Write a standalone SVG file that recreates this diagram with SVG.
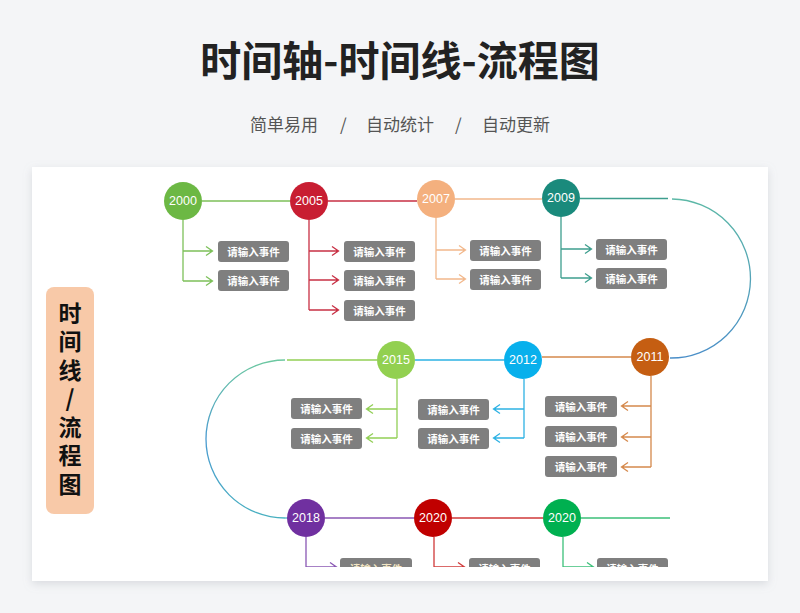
<svg xmlns="http://www.w3.org/2000/svg" width="800" height="613" viewBox="0 0 800 613">
<style>
.cjk{font-family:"Noto Sans CJK SC","Noto Sans",sans-serif}
.yr{font-family:"Liberation Sans",Arial,sans-serif;font-size:12.5px;fill:#fff;text-anchor:middle;dominant-baseline:central}
.bx{fill:#7f7f7f}
.bt{font-family:"Noto Sans CJK SC",sans-serif;font-size:10.5px;font-weight:700;fill:#fff;text-anchor:middle;dominant-baseline:central}
.ln{fill:none;stroke-width:1.3}
.lb{font-family:"Noto Sans CJK SC",sans-serif;font-size:23px;font-weight:700;fill:#111;writing-mode:vertical-rl;text-orientation:upright;letter-spacing:5.5px}
</style>
<defs>
<filter id="sh" x="-5%" y="-5%" width="110%" height="115%">
<feDropShadow dx="0" dy="3" stdDeviation="4" flood-color="#9aa0aa" flood-opacity="0.3"/>
</filter>
<linearGradient id="gr" x1="0" y1="0" x2="0" y2="1">
<stop offset="0" stop-color="#5cb8a6"/>
<stop offset="1" stop-color="#4a8ec8"/>
</linearGradient>
<linearGradient id="gl" x1="0" y1="0" x2="0" y2="1">
<stop offset="0" stop-color="#6cc8a0"/>
<stop offset="0.5" stop-color="#4a9ad0"/>
<stop offset="1" stop-color="#48b0c0"/>
</linearGradient>
<clipPath id="cp"><rect x="32" y="167" width="736" height="400"/></clipPath>
</defs>
<rect width="800" height="613" fill="#f4f5f7"/>
<text x="400" y="76" class="cjk" font-size="41" font-weight="700" fill="#222" text-anchor="middle">时间轴-时间线-流程图</text>
<g class="cjk" font-size="17" fill="#555">
<text x="250" y="131">简单易用</text>
<text x="340" y="131">/</text>
<text x="366" y="131">自动统计</text>
<text x="455" y="131">/</text>
<text x="482" y="131">自动更新</text>
</g>
<rect x="32" y="167" width="736" height="414" fill="#fff" filter="url(#sh)"/>
<g id="label">
<rect x="46" y="287" width="48" height="227" rx="8" fill="#f8c9a8"/>
<text class="lb" x="70" y="301.5">时间线/流程图</text>
</g>
<g id="connectors" clip-path="url(#cp)">
<path class="ln" stroke="#7dc05a" d="M202,201H290M183,220V281M183,251H212M183,281H212M206,246.5L212.5,251L206,255.5M206,276.5L212.5,281L206,285.5"/>
<path class="ln" stroke="#c83044" d="M328,201H417M309,220V310M309,251H338M309,280H338M309,310H338M332,246.5L338.5,251L332,255.5M332,275.5L338.5,280L332,284.5M332,305.5L338.5,310L332,314.5"/>
<path class="ln" stroke="#f2b88c" d="M455,199H542M436,218V279M436,250H465M436,279H465M459,245.5L465.5,250L459,254.5M459,274.5L465.5,279L459,283.5"/>
<path class="ln" stroke="#3e9e8e" d="M580,198.5H668M561,217V278M561,249H591M561,278H591M585,244.5L591.5,249L585,253.5M585,273.5L591.5,278L585,282.5"/>
<path class="ln" stroke="url(#gr)" d="M672,199A79.5,79.5 0 0 1 670,358"/>
<path class="ln" stroke="#d5894c" d="M631,357H542M651,376V467M651,406H622M651,437H622M651,467H622M628,401.5L621.5,406L628,410.5M628,432.5L621.5,437L628,441.5M628,462.5L621.5,467L628,471.5"/>
<path class="ln" stroke="#2eb2e4" d="M504,360H415M524,379V438M524,409H494M524,438H494M500,404.5L493.5,409L500,413.5M500,433.5L493.5,438L500,442.5"/>
<path class="ln" stroke="#92cf56" d="M377,360H287M397,379V438M397,409H367M397,438H367M373,404.5L366.5,409L373,413.5M373,433.5L366.5,438L373,442.5"/>
<path class="ln" stroke="url(#gl)" d="M285,360A79,79 0 0 0 285,518"/>
<path class="ln" stroke="#4ab0c4" d="M285,518H288"/>
<path class="ln" stroke="#8a58b4" d="M325,518H414M306,537V570M306,567H336M330,562.5L336.5,567L330,571.5"/>
<path class="ln" stroke="#d03a3a" d="M452,518H543M434,537V570M434,567H464M458,562.5L464.5,567L458,571.5"/>
<path class="ln" stroke="#3cc07a" d="M581,518H670M563,537V570M563,567H593M587,562.5L593.5,567L587,571.5"/>
</g>
<g id="n2000"><circle cx="183" cy="201" r="19" fill="#6cb844"/><text class="yr" x="183" y="201">2000</text>
<rect class="bx" x="218" y="241" width="71" height="21" rx="3"/><text class="bt" x="253.5" y="251.5">请输入事件</text>
<rect class="bx" x="218" y="270" width="71" height="21" rx="3"/><text class="bt" x="253.5" y="280.5">请输入事件</text></g>
<g id="n2005"><circle cx="309" cy="201" r="19" fill="#c81e32"/><text class="yr" x="309" y="201">2005</text>
<rect class="bx" x="344" y="241" width="71" height="21" rx="3"/><text class="bt" x="379.5" y="251.5">请输入事件</text>
<rect class="bx" x="344" y="270" width="71" height="21" rx="3"/><text class="bt" x="379.5" y="280.5">请输入事件</text>
<rect class="bx" x="344" y="300" width="71" height="21" rx="3"/><text class="bt" x="379.5" y="310.5">请输入事件</text></g>
<g id="n2007"><circle cx="436" cy="199" r="19" fill="#f4b07e"/><text class="yr" x="436" y="199">2007</text>
<rect class="bx" x="470" y="240" width="71" height="21" rx="3"/><text class="bt" x="505.5" y="250.5">请输入事件</text>
<rect class="bx" x="470" y="269" width="71" height="21" rx="3"/><text class="bt" x="505.5" y="279.5">请输入事件</text></g>
<g id="n2009"><circle cx="561" cy="198" r="19" fill="#1a8a7c"/><text class="yr" x="561" y="198">2009</text>
<rect class="bx" x="596" y="239" width="71" height="21" rx="3"/><text class="bt" x="631.5" y="249.5">请输入事件</text>
<rect class="bx" x="596" y="268" width="71" height="21" rx="3"/><text class="bt" x="631.5" y="278.5">请输入事件</text></g>
<g id="n2011"><circle cx="650" cy="357" r="19" fill="#c55e12"/><text class="yr" x="650" y="357">2011</text>
<rect class="bx" x="545" y="396" width="72" height="21" rx="3"/><text class="bt" x="581" y="406.5">请输入事件</text>
<rect class="bx" x="545" y="426" width="72" height="21" rx="3"/><text class="bt" x="581" y="436.5">请输入事件</text>
<rect class="bx" x="545" y="456" width="72" height="21" rx="3"/><text class="bt" x="581" y="466.5">请输入事件</text></g>
<g id="n2012"><circle cx="523" cy="360" r="19" fill="#08b0ec"/><text class="yr" x="523" y="360">2012</text>
<rect class="bx" x="418" y="399" width="71" height="21" rx="3"/><text class="bt" x="453.5" y="409.5">请输入事件</text>
<rect class="bx" x="418" y="428" width="71" height="21" rx="3"/><text class="bt" x="453.5" y="438.5">请输入事件</text></g>
<g id="n2015"><circle cx="396" cy="360" r="19" fill="#92d050"/><text class="yr" x="396" y="360">2015</text>
<rect class="bx" x="291" y="398" width="71" height="21" rx="3"/><text class="bt" x="326.5" y="408.5">请输入事件</text>
<rect class="bx" x="291" y="428" width="71" height="21" rx="3"/><text class="bt" x="326.5" y="438.5">请输入事件</text></g>
<g clip-path="url(#cp)">
<g id="n2018"><circle cx="306" cy="518" r="19" fill="#7030a0"/><text class="yr" x="306" y="518">2018</text>
<rect class="bx" x="340" y="558" width="72" height="21" rx="3"/><text class="bt" x="376" y="568.5" style="fill:#f3e6c4">请输入事件</text></g>
<g id="n2020a"><circle cx="433" cy="518" r="19" fill="#c00000"/><text class="yr" x="433" y="518">2020</text>
<rect class="bx" x="469" y="558" width="71" height="21" rx="3"/><text class="bt" x="504.5" y="568.5">请输入事件</text></g>
<g id="n2020b"><circle cx="562" cy="518" r="19" fill="#00b050"/><text class="yr" x="562" y="518">2020</text>
<rect class="bx" x="597" y="558" width="71" height="21" rx="3"/><text class="bt" x="632.5" y="568.5">请输入事件</text></g>
</g>
</svg>
